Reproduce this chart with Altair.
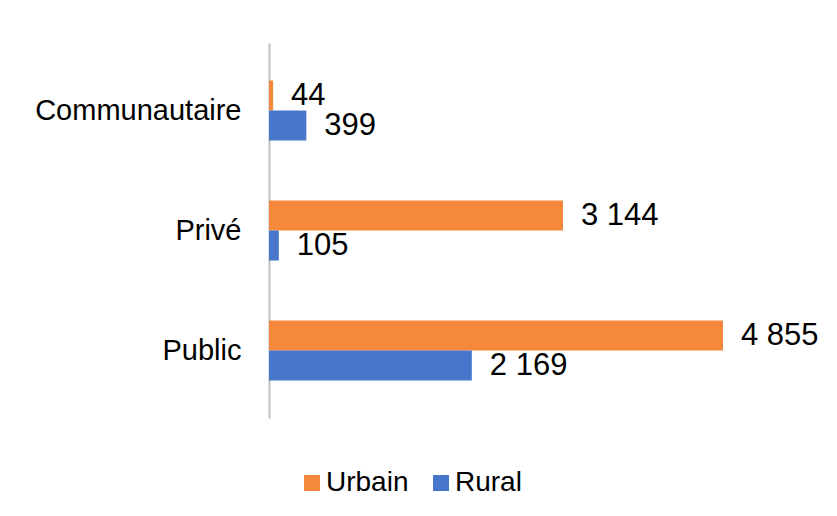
import altair as alt
import pandas as pd

categories = ["Communautaire", "Privé", "Public"]
series = ["Urbain", "Rural"]
urbain = [44, 3144, 4855]
rural = [399, 105, 2169]
colors = ["#F5883B", "#4876CB"]

rows = []
for c, u, r in zip(categories, urbain, rural):
    rows.append({"cat": c, "serie": "Urbain", "value": u})
    rows.append({"cat": c, "serie": "Rural", "value": r})
df = pd.DataFrame(rows)

FONT = "Liberation Sans"

y = alt.Y("cat:N", sort=categories,
          scale=alt.Scale(paddingInner=0.5, paddingOuter=0.3125),
          axis=alt.Axis(title=None, ticks=False, labelFontSize=29, labelColor="#000000",
                        labelFont=FONT, labelPadding=28, domainColor="#BFBFBF",
                        domainWidth=2, labelLimit=400))
yoff = alt.YOffset("serie:N", sort=series, scale=alt.Scale(paddingInner=0, paddingOuter=0))
x = alt.X("value:Q", scale=alt.Scale(domain=[0, 5347]), axis=None)

bars = alt.Chart(df).mark_bar().encode(
    x=x, y=y, yOffset=yoff,
    color=alt.Color("serie:N", sort=series,
                    scale=alt.Scale(domain=series, range=colors),
                    legend=alt.Legend(title=None, orient="none", direction="horizontal",
                                      legendX=29, legendY=426, symbolType="square",
                                      symbolSize=256, labelFontSize=28, labelFont=FONT,
                                      labelColor="#000000", labelOffset=0,
                                      columnPadding=18, symbolStrokeWidth=0)),
)

labels = alt.Chart(df).transform_calculate(
    label="replace(format(datum.value, ','), ',', ' ')"
).mark_text(align="left", baseline="middle", dx=18, fontSize=31, font=FONT,
            color="#000000").encode(
    x=x, y=y, yOffset=yoff, text="label:N"
)

chart = alt.layer(bars, labels).properties(
    width=500, height=375,
    autosize=alt.AutoSizeParams(type="none"),
    padding={"left": 261, "top": 35, "right": 60, "bottom": 90},
    background="white",
).configure_view(stroke=None)

chart.save("out.html", embed_options={"renderer": "svg", "actions": False})
